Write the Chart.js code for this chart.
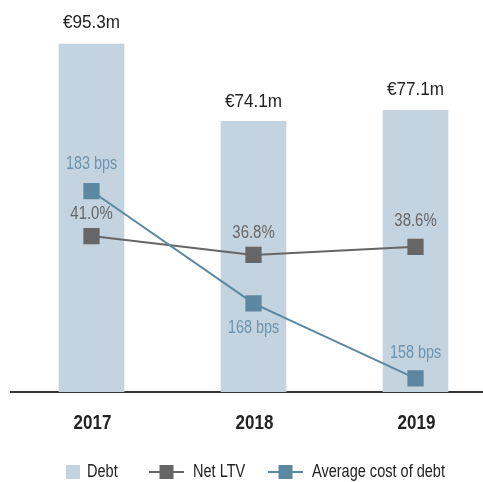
<!DOCTYPE html>
<html>
<head>
<meta charset="utf-8">
<script src="https://cdn.jsdelivr.net/npm/chart.js@4.4.1/dist/chart.umd.min.js"></script>
<style>
    html, body { margin: 0; padding: 0; background: #fff; }
    #wrap { width: 483px; height: 482px; overflow: hidden; position: relative; }
    #debt-chart { position: absolute; left: 0; top: 0; }
</style>
</head>
<body>
<div id="wrap"><canvas id="debt-chart" width="497" height="482"></canvas></div>
<script>
const years = ['2017', '2018', '2019'];
const debt = [95.3, 74.1, 77.1];
const netLtv = [41.0, 36.8, 38.6];
const costOfDebt = [183, 168, 158];

const debtLabels = debt.map(v => `€${v.toFixed(1)}m`);
const ltvLabels = netLtv.map(v => `${v.toFixed(1)}%`);
const costLabels = costOfDebt.map(v => `${v} bps`);

const FONT = '"Liberation Sans", Arial, sans-serif';
const BAR = '#c3d3df';
const GREY = '#666666';
const BLUE = '#5b87a1';

// no condensed face installed, so squeeze the text horizontally
function narrowText(ctx, text, x, y, sx) {
    ctx.save();
    ctx.translate(x, y);
    ctx.scale(sx, 1);
    ctx.fillText(text, 0, 0);
    ctx.restore();
}

// value labels next to each point / bar, plus the year labels under the axis
const valueLabels = {
    id: 'valueLabels',
    afterDatasetsDraw(chart) {
        const ctx = chart.ctx;
        chart.data.datasets.forEach((ds, i) => {
            const meta = chart.getDatasetMeta(i);
            ctx.save();
            ctx.font = `${ds.labelSize}px ${FONT}`;
            ctx.fillStyle = ds.labelColor;
            ctx.textAlign = 'center';
            ctx.textBaseline = 'middle';
            meta.data.forEach((el, j) => {
                narrowText(ctx, ds.valueText[j], el.x, el.y + ds.labelOffset[j], ds.labelScale);
            });
            ctx.restore();
        });

        const xs = chart.scales.x;
        ctx.save();
        ctx.font = `bold 20px ${FONT}`;
        ctx.fillStyle = '#222';
        ctx.textAlign = 'center';
        ctx.textBaseline = 'middle';
        chart.data.labels.forEach((lab, j) => {
            narrowText(ctx, lab, xs.getPixelForTick(j) + 1, xs.bottom + 31, 0.85);
        });
        ctx.restore();
    }
};

// legend at the bottom: box for bars, line+square for lines
const bottomLegend = {
    id: 'bottomLegend',
    afterDraw(chart) {
        const ctx = chart.ctx;
        const y = 472;
        const items = [
            {x: 66, ds: chart.data.datasets[0]},
            {x: 149, ds: chart.data.datasets[1]},
            {x: 268, ds: chart.data.datasets[2]}
        ];
        ctx.save();
        ctx.font = `17.5px ${FONT}`;
        ctx.textBaseline = 'middle';
        items.forEach(it => {
            let tx;
            if (it.ds.type === 'bar') {
                ctx.fillStyle = it.ds.backgroundColor;
                ctx.fillRect(it.x, y - 7, 14, 14);
                tx = it.x + 21;
            } else {
                ctx.strokeStyle = it.ds.borderColor;
                ctx.lineWidth = 2;
                ctx.beginPath();
                ctx.moveTo(it.x, y);
                ctx.lineTo(it.x + 35, y);
                ctx.stroke();
                ctx.fillStyle = it.ds.pointBackgroundColor;
                ctx.fillRect(it.x + 10.5, y - 7, 14, 14);
                tx = it.x + 44;
            }
            ctx.fillStyle = '#222';
            narrowText(ctx, it.ds.label, tx, y, 0.83);
        });
        ctx.restore();
    }
};

new Chart(document.getElementById('debt-chart'), {
    data: {
        labels: years,
        datasets: [
            {
                type: 'bar',
                label: 'Debt',
                data: debt,
                yAxisID: 'yDebt',
                backgroundColor: BAR,
                barThickness: 65,
                order: 3,
                valueText: debtLabels,
                labelColor: '#222',
                labelSize: 19,
                labelScale: 0.9,
                labelOffset: [-21, -20, -21]
            },
            {
                type: 'line',
                label: 'Net LTV',
                data: netLtv,
                yAxisID: 'yLtv',
                borderColor: GREY,
                borderWidth: 2,
                pointStyle: 'rect',
                pointRadius: 11.5,
                pointBorderWidth: 0,
                pointBackgroundColor: GREY,
                order: 2,
                valueText: ltvLabels,
                labelColor: GREY,
                labelSize: 18,
                labelScale: 0.83,
                labelOffset: [-22, -22, -26]
            },
            {
                type: 'line',
                label: 'Average cost of debt',
                data: costOfDebt,
                yAxisID: 'yCost',
                borderColor: BLUE,
                borderWidth: 2,
                pointStyle: 'rect',
                pointRadius: 11.5,
                pointBorderWidth: 0,
                pointBackgroundColor: BLUE,
                order: 1,
                valueText: costLabels,
                labelColor: '#6d93ad',
                labelSize: 18,
                labelScale: 0.8,
                labelOffset: [-27, 25, -25]
            }
        ]
    },
    options: {
        responsive: false,
        animation: false,
        events: [],
        layout: {
            autoPadding: false,
            padding: {top: 26.8, left: 10.5, right: 0.5, bottom: 90}
        },
        plugins: {
            legend: {display: false},
            tooltip: {enabled: false}
        },
        scales: {
            x: {
                grid: {display: false, drawTicks: false},
                border: {display: true, color: '#333', width: 2},
                ticks: {display: false}
            },
            yDebt: {display: false, min: 0, max: 100},
            yLtv: {display: false, min: 6.2, max: 87.7},
            yCost: {display: false, min: 156.17, max: 204.93}
        }
    },
    plugins: [valueLabels, bottomLegend]
});
</script>
</body>
</html>
